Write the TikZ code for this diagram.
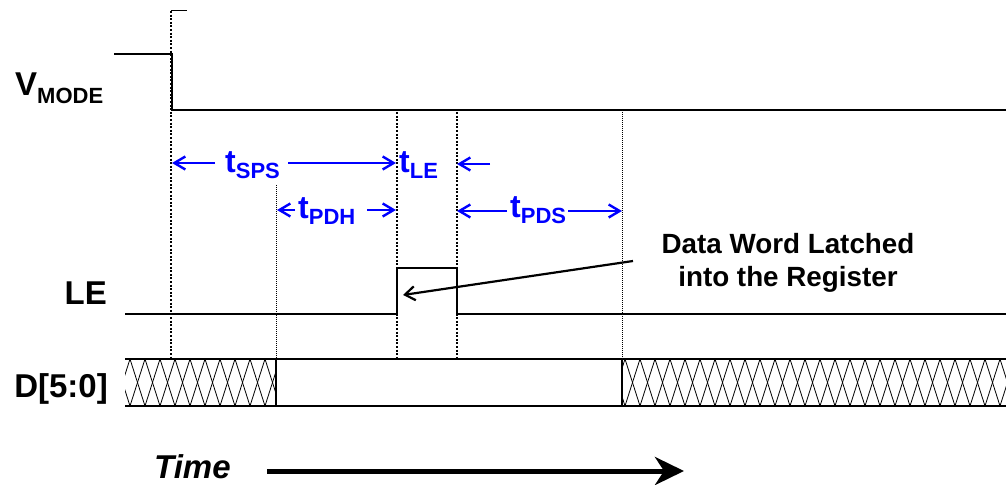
\documentclass[tikz,border=0pt]{standalone}
\usepackage{fontspec}
\setmainfont{Liberation Sans}
\usetikzlibrary{arrows.meta}
\newcommand{\fsz}[1]{\fontsize{#1bp}{#1bp}\selectfont}
\newcommand{\siglab}[3]{{\fsz{33}#1}\raisebox{-#3bp}{\fsz{22}#2}}
\newcommand{\tlab}[1]{{\fsz{32}t}\raisebox{-6bp}{\fsz{22}#1}}
\begin{document}
\begin{tikzpicture}[x=1bp,y=-1bp,font=\bfseries,
  sigline/.style={line width=2.8bp,line join=miter},
  busline/.style={line width=2.4bp},
  guidethick/.style={line width=2bp,dash pattern=on 2bp off 1.6bp},
  guidethin/.style={line width=1bp,dash pattern=on 1bp off 1bp},
  hatch/.style={line width=0.8bp,black},
  lab/.style={anchor=base east,inner sep=0pt},
  tl/.style={anchor=base west,inner sep=0pt,text=blue},
  tarrow/.style={draw=blue,line width=2.4bp,-{Straight Barb[length=11bp,width=13bp]}},
  notearrow/.style={line width=2.2bp,-{Straight Barb[length=10bp,width=14bp]}},
  timearrow/.style={line width=5bp,-{Stealth[length=29bp,width=28bp,inset=9bp]}}]
\path[use as bounding box] (0,0) rectangle (1006,485);

% guide coordinates
\coordinate (g1t) at (171,11);  \coordinate (g1b) at (171,358);
\coordinate (g2t) at (276,185); \coordinate (g2b) at (276,358);
\coordinate (g3t) at (397,112); \coordinate (g3b) at (397,358);
\coordinate (g4t) at (457,112); \coordinate (g4b) at (457,358);
\coordinate (g5t) at (622,112); \coordinate (g5b) at (622,358);
\coordinate (g1e) at (187,11);

% dotted guides
\draw[guidethick] (g1t) -- (g1b);
\draw[guidethin] (g2t) -- (g2b);
\draw[guidethick] (g3t) -- (g3b);
\draw[guidethick] (g4t) -- (g4b);
\draw[guidethin] (g5t) -- (g5b);
\draw[line width=1bp] (g1t) -- (g1e);

% signal labels
\node[anchor=base west,inner sep=0pt] (vmode) at (15,96) {\siglab{V}{MODE}{8}};
\node[lab] (le) at (107,305) {\fsz{33}LE};
\node[lab] (dbus) at (108,397) {\fsz{33}D[5:0]};

% V_MODE waveform
\draw[sigline] (114,54) -- (172,54) -- (172,110) -- (1006,110);
% LE waveform
\draw[sigline] (125,314) -- (397,314) -- (397,268) -- (457,268) -- (457,314) -- (1006,314);

% D bus hatch
\begin{scope}
  \clip (125,359) rectangle (276,406) (622,359) rectangle (1006,406);
  \foreach \j in {-1,...,60} {
    \draw[hatch] (130+15*\j,359) -- (145+15*\j,406);
    \draw[hatch] (130+15*\j,359) -- (115+15*\j,406);
  }
\end{scope}
\draw[busline] (125,359) -- (1006,359);
\draw[busline] (125,406) -- (1006,406);
\draw[busline] (276,359) -- (276,406);
\draw[busline] (622,359) -- (622,406);

% timing labels
\node[tl] (tsps) at (225,173) {\tlab{SPS}};
\node[tl] (tle) at (399,173) {\tlab{LE}};
\node[tl] (tpdh) at (298,219) {\tlab{PDH}};
\node[tl] (tpds) at (510,218) {\tlab{PDS}};

\coordinate (a1s) at (215,163); \coordinate (a1e) at (172,163);
\coordinate (a2s) at (288,163); \coordinate (a2e) at (396,163);
\coordinate (a3s) at (490,164); \coordinate (a3e) at (457,164);
\coordinate (a4s) at (295,210); \coordinate (a4e) at (277,210);
\coordinate (a5s) at (367,210); \coordinate (a5e) at (396,210);
\coordinate (a6s) at (507,211); \coordinate (a6e) at (457,211);
\coordinate (a7s) at (568,211); \coordinate (a7e) at (622,211);
\draw[tarrow] (a1s) -- (a1e);
\draw[tarrow] (a2s) -- (a2e);
\draw[tarrow] (a3s) -- (a3e);
\draw[tarrow] (a4s) -- (a4e);
\draw[tarrow] (a5s) -- (a5e);
\draw[tarrow] (a6s) -- (a6e);
\draw[tarrow] (a7s) -- (a7e);

% note
\node[anchor=north,align=center,inner sep=0pt,font=\bfseries\fsz{27.8}] (note) at (788,233)
  {Data Word Latched\\[5bp]into the Register};
\coordinate (nstart) at (633,261);
\coordinate (ntip) at (403,295);
\draw[notearrow] (nstart) -- (ntip);

% time
\node[anchor=base west,inner sep=0pt,font=\bfseries\itshape] (time) at (154,478) {\fsz{33}Time};
\coordinate (ts) at (267,471);
\coordinate (te) at (684,471);
\draw[timearrow] (ts) -- (te);
\end{tikzpicture}
\end{document}
